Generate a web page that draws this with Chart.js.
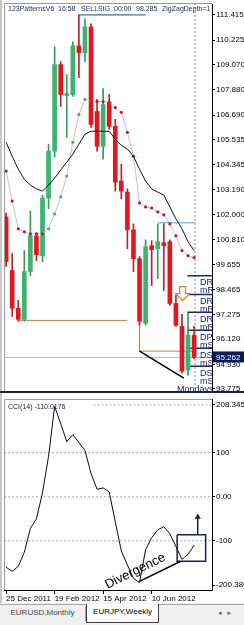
<!DOCTYPE html>
<html lang="en">
<head>
<meta charset="UTF-8" />
<title>EURJPY,Weekly</title>
<script src="https://cdn.jsdelivr.net/npm/chart.js@4"></script>
<style>
  body { margin:0; width:244px; height:625px; overflow:hidden; background:#f0f0f0; position:relative; font-family:"Liberation Sans", Arial, sans-serif; }
  .pane { position:absolute; left:0; width:244px; background:#fff; }
  #pricePane { top:0; height:395px; }
  #cciPane { top:395px; height:208px; }
  .tabs { position:absolute; left:0; top:604px; width:244px; height:21px; background:#f0f0f0; border-top:1px solid #a8a8a8; }
  .tab { position:absolute; font-size:8px; text-align:center; box-sizing:border-box; }
  #tab1 { left:0; top:1px; width:86px; height:15px; line-height:14px; color:#444; border-right:1px solid #a0a0a0; }
  #tab2 { left:86px; top:-1px; width:73px; height:19px; line-height:16px; background:#fff; color:#000; border:1px solid #404040; border-top:none; }
  #arrows { position:absolute; left:218px; top:4px; font-size:7px; color:#666; font-family:"DejaVu Sans", sans-serif; letter-spacing:6px; }
</style>
</head>
<body>

<div class="pane" id="pricePane"><canvas id="priceChart"></canvas></div>
<div class="pane" id="cciPane"><canvas id="cciChart"></canvas></div>
<div class="tabs">
  <div class="tab" id="tab1">EURUSD,Monthly</div>
  <div class="tab" id="tab2">EURJPY,Weekly</div>
  <div id="arrows">◂▸</div>
</div>

<script>
// weekly candles, 25 Dec 2011 onwards
const openP  = [101.89, 99.36, 97.58, 97.06, 99.31, 101.00, 100.06, 102.78, 104.99, 109.07, 107.61, 107.66, 109.96, 109.63, 110.85, 106.86,
                105.22, 107.29, 106.16, 103.58, 103.06, 101.28, 99.92, 96.87, 100.53, 100.39, 100.67, 100.72, 97.81, 96.73, 94.67, 96.31];
const highP  = [102.08, 100.16, 97.95, 100.30, 102.17, 101.14, 102.92, 105.32, 109.91, 109.21, 108.60, 110.15, 111.415, 111.23, 110.99, 107.43,
                107.94, 107.66, 106.49, 104.38, 103.21, 101.56, 100.02, 100.81, 100.77, 101.56, 101.56, 100.81, 98.19, 97.29, 97.34, 96.73];
const lowP   = [99.55, 97.20, 96.97, 96.97, 99.12, 99.83, 99.78, 102.27, 104.71, 107.10, 105.64, 107.57, 108.46, 109.21, 106.11, 104.99,
                104.61, 106.02, 103.11, 102.74, 100.39, 99.31, 96.78, 96.78, 98.65, 98.98, 98.42, 97.72, 96.73, 94.53, 94.43, 95.20];
const closeP = [99.78, 97.58, 97.06, 99.31, 101.00, 100.11, 102.78, 104.99, 109.07, 107.66, 107.71, 109.96, 109.63, 110.85, 106.25, 105.22,
                107.19, 106.16, 103.53, 103.11, 101.28, 99.92, 96.97, 100.48, 100.34, 100.72, 100.53, 97.81, 96.78, 94.62, 96.31, 95.262];

// moving averages
const maSlow = [105.41, 104.75, 104.14, 103.67, 103.39, 103.21, 103.11, 103.39, 103.72, 104.10, 104.47, 104.85, 105.32, 105.79, 105.93, 105.93,
                105.93, 105.93, 105.55, 105.27, 105.08, 104.75, 104.14, 103.58, 103.21, 103.06, 102.92, 102.36, 101.80, 101.33, 100.72, 100.30];
const maDots = [104.05, 102.64, 101.33, 101.19, 101.09, 101.09, 101.09, 101.33, 102.03, 102.83, 103.82, 105.41, 106.72, 107.43, 107.33, 107.33,
                107.33, 107.29, 107.05, 106.82, 105.88, 104.75, 102.55, 102.36, 102.31, 102.13, 101.99, 101.56, 101.00, 100.30, 100.06, 99.97];
const dotsBelow = [7, 8, 9, 10, 11, 12, 13];

// CCI(14)
const cci = [-160, -169, -158, -126, -72, -50, 9, 92, 205, 166, 125, 141, 123, 105, 53, 17,
             20, 11, -57, -123, -155, -185, -195, -120, -93, -75, -68, -84, -113, -142, -131, -110.0176];

// axes
const priceTicks = [111.415, 110.225, 109.070, 107.880, 106.690, 105.535, 104.345, 103.190, 102.000, 100.810, 99.655, 98.465, 97.275, 96.120, 94.930, 93.775];
const cciTicks = [208.3453, 100, 0, -100, -200.38];
const cciTickLabels = ['208.3453', '100', '0.00', '-100', '-200.380'];
const xTickIdx = [0, 8, 16, 24];
const xTickLabels = ['25 Dec 2011', '19 Feb 2012', '15 Apr 2012', '10 Jun 2012'];

// objects on the chart
const bidPrice = 95.262;
const patternTop = 111.415;
const supportLine = 97.01;
const lastLow = 95.56;
const blueLevel = 101.61;
const pivotLevels = [99.12, 98.23, 97.39, 96.54, 95.70, 94.85];
const pivotNames = ['DR', 'mR', 'DR', 'mR', 'DR', 'mR', 'DP', 'mS', 'DS', 'mS', 'DS', 'mS'];
const priceDivergence = [[22, 95.56], [29.3, 94.29]];
const cciDivergence = [[22, -192], [28.7, -147]];
const cciBox = [[28.2, -86.5], [32.9, -86.5], [32.9, -146.5], [28.2, -146.5], [28.2, -86.5]];
const cciArrow = [[31.6, -86.5], [31.6, -46]];
const cciLevels = [100, 0, -100];

const xMin = -0.35, xMax = 33.95;
const yMin = 93.68, yMax = 111.93;
const cciMin = -211.61, cciMax = 221.82;

Chart.defaults.font.family = '"Liberation Sans", Arial, sans-serif';
Chart.defaults.font.size = 8;
Chart.defaults.color = '#000';

const idx = openP.map((_, i) => i);
const up = i => closeP[i] >= openP[i];
const pts = arr => arr.map(([x, y]) => ({ x, y }));
const hline = (v, a, b) => [{ x: a, y: v }, { x: b, y: v }];
const lineDs = (data, color, extra) => Object.assign({
  type: 'line', data, borderColor: color, borderWidth: 1, pointRadius: 0, tension: 0, order: 3
}, extra || {});

const header = [['123PatternsV6', 8], ['16:58', 58], ['SELLSIG', 81], ['00:00', 114], ['98.285', 136], ['ZigZagDepth=1', 162]];

const priceOverlay = {
  id: 'priceOverlay',
  beforeDraw(chart) {
    const { ctx } = chart;
    ctx.save();
    ctx.fillStyle = '#fff'; ctx.fillRect(0, 0, chart.width, chart.height);
    ctx.fillStyle = '#c8c8c8'; ctx.fillRect(0, 0, 2, chart.height);
    ctx.restore();
  },
  afterDatasetsDraw(chart) {
    const { ctx, chartArea: a, scales: { x, y } } = chart;
    ctx.save();
    ctx.beginPath(); ctx.rect(a.left, a.top, a.right - a.left, a.bottom - a.top); ctx.clip();

    // sell arrow
    const ax = x.getPixelForValue(29.1), ay = y.getPixelForValue(98.6);
    ctx.beginPath();
    ctx.moveTo(ax - 3, ay); ctx.lineTo(ax + 3, ay); ctx.lineTo(ax + 3, ay + 7); ctx.lineTo(ax + 7, ay + 7);
    ctx.lineTo(ax, ay + 14); ctx.lineTo(ax - 7, ay + 7); ctx.lineTo(ax - 3, ay + 7); ctx.closePath();
    ctx.fillStyle = '#fff'; ctx.fill();
    ctx.strokeStyle = '#e07a2c'; ctx.lineWidth = 1.2; ctx.stroke();

    // pivot labels
    ctx.font = '9px "Liberation Sans"'; ctx.fillStyle = '#1a2a6a';
    ctx.textAlign = 'left'; ctx.textBaseline = 'middle';
    pivotLevels.forEach((p, k) => {
      const py = y.getPixelForValue(p);
      ctx.fillText(pivotNames[2 * k], a.right - 12, py + 7);
      ctx.fillText(pivotNames[2 * k + 1], a.right - 12, py + 15);
    });
    ctx.textBaseline = 'alphabetic';
    ctx.fillText('Mondays', a.right - 35, a.bottom + 1);

    // header line
    ctx.font = '7px "Liberation Sans"'; ctx.fillStyle = '#24305a'; ctx.textBaseline = 'middle';
    header.forEach(([t, px]) => ctx.fillText(t, px, 9));
    ctx.restore();

    ctx.save();
    ctx.strokeStyle = '#9a9a9a'; ctx.lineWidth = 1;
    ctx.beginPath(); ctx.moveTo(a.left + 0.5, a.bottom); ctx.lineTo(a.left + 0.5, a.top - 0.5); ctx.lineTo(a.right, a.top - 0.5); ctx.stroke();
    ctx.fillStyle = '#1c2048'; ctx.fillRect(0, a.bottom, chart.width, 2);
    ctx.restore();
  },
  afterDraw(chart) {
    const { ctx, chartArea: a, scales: { y } } = chart;
    const py = y.getPixelForValue(bidPrice);
    ctx.save();
    ctx.fillStyle = '#0c1a5c'; ctx.fillRect(a.right + 1, py - 6, chart.width - a.right - 1, 11);
    ctx.fillStyle = '#fff'; ctx.font = '8px "Liberation Sans"'; ctx.textBaseline = 'middle'; ctx.textAlign = 'left';
    ctx.fillText(bidPrice.toFixed(3), a.right + 4, py);
    ctx.restore();
  }
};

new Chart(document.getElementById('priceChart'), {
  type: 'bar',
  data: {
    datasets: [
      lineDs(maSlow.map((v, i) => ({ x: i, y: v })), '#0b1030', { order: 0 }),
      lineDs(maDots.map((v, i) => ({ x: i, y: v })), '#c4c4c4', {
        order: 0, pointRadius: 1.6, pointBorderWidth: 0,
        pointBackgroundColor: idx.map(i => dotsBelow.includes(i) ? '#4fae5c' : '#b3202a')
      }),
      lineDs(pts(priceDivergence), '#000', { order: 0, borderWidth: 1.5 }),
      {
        type: 'bar', order: 1, grouped: false, barThickness: 4, minBarLength: 1, borderWidth: 0,
        data: idx.map(i => ({ x: i, y: [openP[i], closeP[i]] })),
        backgroundColor: idx.map(i => up(i) ? '#3cb371' : '#e3171f')
      },
      {
        type: 'bar', order: 2, grouped: false, barThickness: 1, borderWidth: 0,
        data: idx.map(i => ({ x: i, y: [lowP[i], highP[i]] })),
        backgroundColor: idx.map(i => up(i) ? '#3a9a5a' : '#b0282c')
      },
      lineDs(hline(bidPrice, -1, 40), '#b8b8b8'),
      lineDs(hline(patternTop, 12, 23), '#34445e'),
      lineDs(hline(supportLine, 2, 20), '#d07a48'),
      lineDs([{ x: 22, y: lowP[22] }, { x: 22, y: lastLow }, { x: 31.3, y: lastLow }], '#d07a48'),
      lineDs(hline(blueLevel, 25, 31.2), '#5b9bd0'),
      lineDs(pivotLevels.flatMap(p => [{ x: 29.9, y: p }, { x: 40, y: p }, { x: 40, y: null }]), '#1a2a6a', { borderWidth: 1.5 }),
      lineDs([{ x: 31.15, y: 90 }, { x: 31.15, y: 115 }], '#8c8c8c', { borderDash: [2, 2] })
    ]
  },
  options: {
    animation: false, responsive: true, maintainAspectRatio: false,
    layout: { padding: { left: 3, top: 4, right: 0, bottom: 2 } },
    plugins: { legend: { display: false }, tooltip: { enabled: false } },
    scales: {
      x: { type: 'linear', display: false, min: xMin, max: xMax, offset: false, stacked: false },
      y: {
        position: 'right', min: yMin, max: yMax,
        afterBuildTicks: s => { s.ticks = priceTicks.map(v => ({ value: v })); },
        afterFit: s => { s.width = 32; s.paddingTop = 0; s.paddingBottom = 0; },
        ticks: { autoSkip: false, padding: 1, callback: v => Number(v).toFixed(3) },
        grid: { drawOnChartArea: false, drawTicks: true, tickLength: 3, color: '#000' },
        border: { display: true, color: '#000' }
      }
    }
  },
  plugins: [priceOverlay]
});

const cciOverlay = {
  id: 'cciOverlay',
  beforeDraw(chart) {
    const { ctx } = chart;
    ctx.save();
    ctx.fillStyle = '#fff'; ctx.fillRect(0, 0, chart.width, chart.height);
    ctx.fillStyle = '#c8c8c8'; ctx.fillRect(0, 0, 2, chart.height);
    ctx.restore();
  },
  afterDatasetsDraw(chart) {
    const { ctx, chartArea: a, scales: { x, y } } = chart;
    ctx.save();
    ctx.fillStyle = '#1a1a2e'; ctx.font = '7px "Liberation Sans"';
    ctx.textAlign = 'left'; ctx.textBaseline = 'middle';
    ctx.fillText('CCI(14) ' + cci[cci.length - 1].toFixed(4), a.left + 4, a.top + 8);

    ctx.translate(x.getPixelForValue(21.3), y.getPixelForValue(-169));
    ctx.rotate(-0.46);
    ctx.font = '13px "Liberation Sans"'; ctx.fillStyle = '#000'; ctx.textAlign = 'center';
    ctx.fillText('Divergence', 0, 0);
    ctx.restore();

    ctx.save();
    ctx.strokeStyle = '#9a9a9a'; ctx.lineWidth = 1;
    ctx.beginPath(); ctx.moveTo(a.left + 0.5, a.bottom); ctx.lineTo(a.left + 0.5, a.top + 0.5); ctx.lineTo(a.right, a.top + 0.5); ctx.stroke();
    ctx.restore();
  }
};

new Chart(document.getElementById('cciChart'), {
  type: 'line',
  data: {
    datasets: [
      lineDs(cci.map((v, i) => ({ x: i, y: v })), '#0a0a20', { order: 0 }),
      lineDs(pts(cciDivergence), '#000', { order: 0, borderWidth: 1.5 }),
      lineDs(pts(cciBox), '#1a2050', { order: 0, borderWidth: 1.5 }),
      lineDs(pts(cciArrow), '#1a2050', {
        order: 0, borderWidth: 1.5, pointStyle: 'triangle', pointBorderWidth: 0,
        pointRadius: [0, 3.5], pointBackgroundColor: '#1a2050'
      }),
      lineDs(cciLevels.flatMap(v => [{ x: -1, y: v }, { x: 40, y: v }, { x: 40, y: null }]), '#a8a8a8', { borderDash: [2, 2] }),
      lineDs(hline(cciTicks[0], 14.4, 40), '#a8a8a8', { borderDash: [2, 2] })
    ]
  },
  options: {
    animation: false, responsive: true, maintainAspectRatio: false,
    layout: { padding: { left: 3, top: 2, right: 0, bottom: 0 } },
    plugins: { legend: { display: false }, tooltip: { enabled: false } },
    scales: {
      x: {
        type: 'linear', min: xMin, max: xMax, offset: false,
        afterBuildTicks: s => { s.ticks = xTickIdx.map(v => ({ value: v })); },
        afterFit: s => { s.height = 13; s.paddingLeft = 0; s.paddingRight = 0; },
        ticks: { autoSkip: false, maxRotation: 0, align: 'start', padding: 0, callback: (v, i) => xTickLabels[i] },
        grid: { drawOnChartArea: false, drawTicks: true, tickLength: 4, color: '#000' },
        border: { display: true, color: '#000' }
      },
      y: {
        position: 'right', min: cciMin, max: cciMax,
        afterBuildTicks: s => { s.ticks = cciTicks.map(v => ({ value: v })); },
        afterFit: s => { s.width = 32; s.paddingTop = 0; s.paddingBottom = 0; },
        ticks: { autoSkip: false, padding: 1, callback: (v, i) => cciTickLabels[i] },
        grid: { drawOnChartArea: false, drawTicks: true, tickLength: 3, color: '#000' },
        border: { display: true, color: '#000' }
      }
    }
  },
  plugins: [cciOverlay]
});
</script>
</body>
</html>
